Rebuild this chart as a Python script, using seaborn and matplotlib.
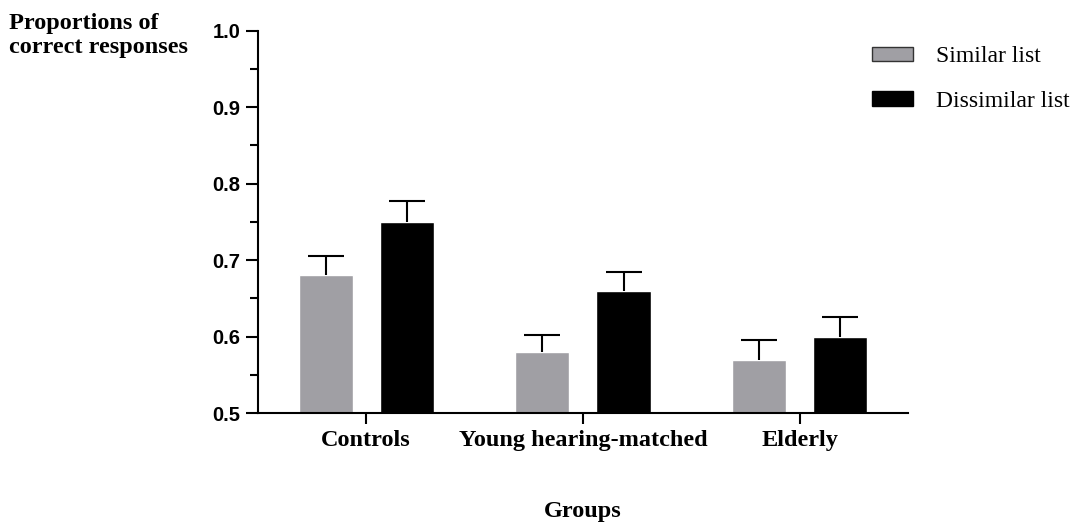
import pandas as pd
import matplotlib.pyplot as plt
import seaborn as sns
from matplotlib.patches import Patch
from matplotlib.ticker import MultipleLocator

# data
groups = ['Controls', 'Young hearing-matched', 'Elderly']
lists = ['Similar list', 'Dissimilar list']
similar_mean = [0.68, 0.58, 0.57]
dissimilar_mean = [0.75, 0.66, 0.60]
similar_err = [0.026, 0.022, 0.026]
dissimilar_err = [0.027, 0.025, 0.026]

df = pd.DataFrame({
    'group': groups * 2,
    'list': [lists[0]] * 3 + [lists[1]] * 3,
    'prop': similar_mean + dissimilar_mean,
    'err': similar_err + dissimilar_err,
})

colors = {'Similar list': '#a09fa4', 'Dissimilar list': '#000000'}
serif = ['Liberation Serif', 'DejaVu Serif']
sans = ['Liberation Sans', 'DejaVu Sans']

sns.set_style('ticks')
plt.rcParams.update({'text.color': 'black', 'axes.labelcolor': 'black',
                     'xtick.color': 'black', 'ytick.color': 'black',
                     'axes.edgecolor': 'black'})
fig = plt.figure(figsize=(10.79, 5.25), dpi=100)
ax = fig.add_axes([0.239, 0.2133, 0.6025, 0.728])

sns.barplot(data=df, x='group', y='prop', hue='list', order=groups,
            hue_order=lists, palette=colors, width=0.75, gap=1/3,
            errorbar=None, legend=False, saturation=1, ax=ax)

# upward-only error bars on each bar
for cont, name in zip(ax.containers, lists):
    sub = df[df['list'] == name].set_index('group').loc[groups]
    xs = [b.get_x() + b.get_width() / 2 for b in cont]
    eb = ax.errorbar(xs, sub['prop'], yerr=[[0] * 3, sub['err']], fmt='none',
                     ecolor='black', elinewidth=1.5, capsize=13, capthick=1.5)
    eb[1][0].set_visible(False)  # drop the cap sitting on the bar top

ax.set_ylim(0.5, 1.0)
ax.set_xlim(-0.5, 2.5)
ax.yaxis.set_major_locator(MultipleLocator(0.1))
ax.yaxis.set_minor_locator(MultipleLocator(0.05))
ax.yaxis.set_major_formatter(plt.FormatStrFormatter('%.1f'))
sns.despine(ax=ax)
for s in ['left', 'bottom']:
    ax.spines[s].set_linewidth(1.5)
ax.tick_params(axis='y', which='major', length=9, width=1.5)
ax.tick_params(axis='y', which='minor', length=6, width=1.5)
ax.tick_params(axis='x', length=8, width=1.5, pad=4)

for lab in ax.get_yticklabels():
    lab.set_fontfamily(sans)
    lab.set_fontweight('bold')
    lab.set_fontsize(14.5)
for lab in ax.get_xticklabels():
    lab.set_fontfamily(serif)
    lab.set_fontweight('bold')
    lab.set_fontsize(17.5)

ax.set_xlabel('Groups', family=serif, fontweight='bold', fontsize=17.5, labelpad=36)
ax.set_ylabel('')
fig.text(0.008, 0.975, 'Proportions of\ncorrect responses', family=serif,
         fontweight='bold', fontsize=17.5, ha='left', va='top', linespacing=1.2)

handles = [Patch(facecolor=colors['Similar list'], edgecolor='#333333', linewidth=1),
           Patch(facecolor=colors['Dissimilar list'], edgecolor='black', linewidth=1)]
fig.legend(handles, lists, loc='upper left', bbox_to_anchor=(0.7995, 0.93),
           frameon=False, prop={'family': serif, 'size': 17},
           handlelength=1.75, handleheight=0.55, handletextpad=0.95,
           labelspacing=1.0, borderaxespad=0)

plt.savefig('out.png', dpi=100)
